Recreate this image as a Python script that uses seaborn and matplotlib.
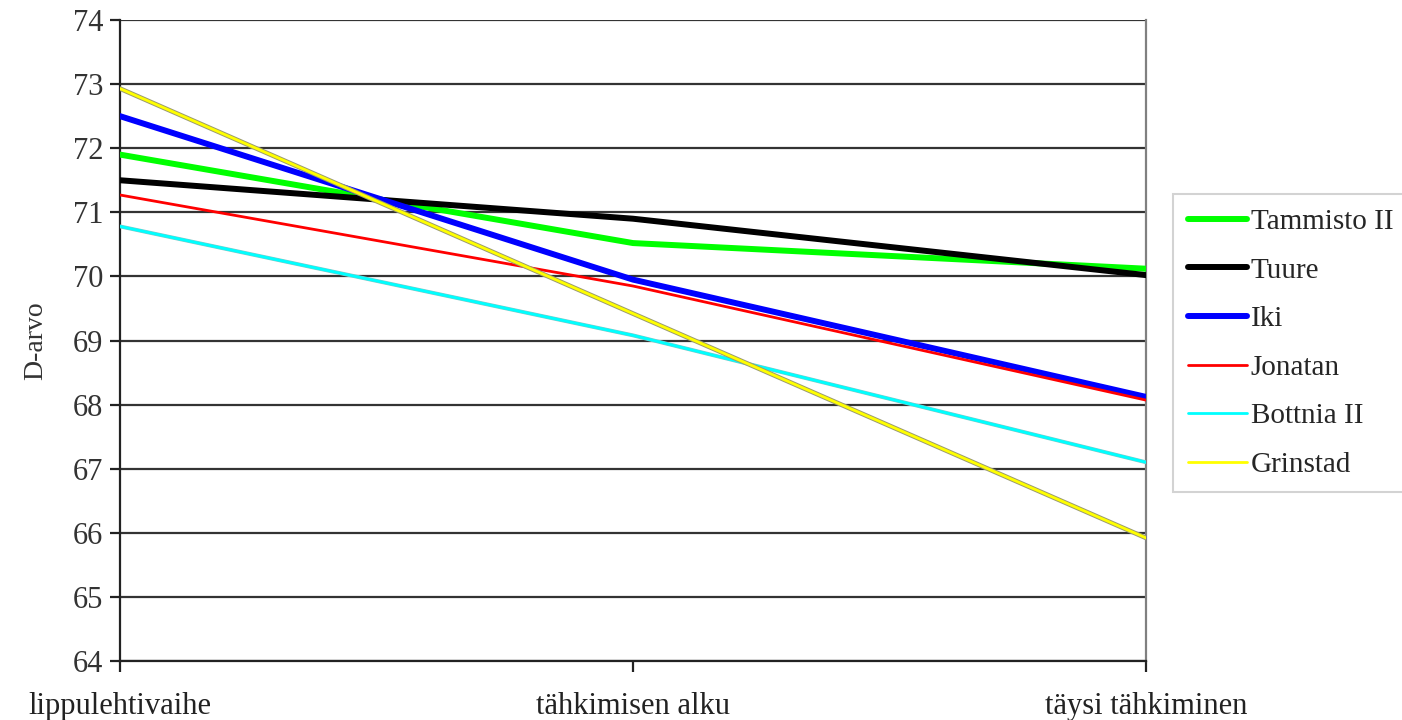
import pandas as pd
import matplotlib.pyplot as plt
import matplotlib.patheffects as pe
import seaborn as sns

# Data
vaiheet = ['lippulehtivaihe', 'tähkimisen alku', 'täysi tähkiminen']
lajikkeet = ['Tammisto II', 'Tuure', 'Iki', 'Jonatan', 'Bottnia II', 'Grinstad']
tammisto = [71.9, 70.52, 70.12]
tuure = [71.5, 70.9, 70.02]
iki = [72.5, 69.95, 68.12]
jonatan = [71.27, 69.85, 68.07]
bottnia = [70.78, 69.08, 67.1]
grinstad = [72.93, 69.42, 65.92]

varit = ['#00ff00', '#000000', '#0000ff', '#ff0000', '#00ffff', '#ffff00']
paksuus = [4.3, 4.3, 4.3, 2.0, 2.0, 2.0]

arvot = [tammisto, tuure, iki, jonatan, bottnia, grinstad]
rivit = []
for nimi, sarja in zip(lajikkeet, arvot):
    for v, y in zip(vaiheet, sarja):
        rivit.append({'Vaihe': v, 'D-arvo': y, 'Lajike': nimi})
df = pd.DataFrame(rivit)

sns.set_style('white')
plt.rcParams['font.family'] = ['Liberation Serif', 'DejaVu Serif']

fig = plt.figure(figsize=(14.02, 7.2), dpi=100)
ax = fig.add_axes([120 / 1402, 59 / 720, 1026 / 1402, 641 / 720])

sns.lineplot(data=df, x='Vaihe', y='D-arvo', hue='Lajike', size='Lajike',
             hue_order=lajikkeet, size_order=lajikkeet,
             palette=dict(zip(lajikkeet, varit)),
             sizes=dict(zip(lajikkeet, paksuus)),
             sort=False, legend=False, ax=ax, zorder=3)

# Grinstad has a faint grey rim in the original
for line, nimi in zip(ax.lines, lajikkeet):
    if nimi == 'Grinstad':
        line.set_path_effects([pe.Stroke(linewidth=3.4, foreground='#9a9a70'), pe.Normal()])
    elif nimi == 'Bottnia II':
        line.set_path_effects([pe.Stroke(linewidth=2.8, foreground='#80c8c8'), pe.Normal()])

ax.set_xlim(0, 2)
ax.set_ylim(64, 74)
ax.set_yticks(range(64, 75))
ax.set_xticks(range(len(vaiheet)))
ax.set_xticklabels(vaiheet)
ax.set_xlabel('')
ax.set_ylabel('D-arvo', fontsize=20, color='#333333', labelpad=18)

ax.yaxis.grid(True, color='#333333', linewidth=1.6)
ax.set_axisbelow(True)
ax.spines['top'].set_visible(False)
ax.spines['left'].set_color('#222222')
ax.spines['bottom'].set_color('#222222')
ax.spines['left'].set_linewidth(1.6)
ax.spines['bottom'].set_linewidth(1.6)
ax.spines['right'].set_color('#808080')
ax.spines['right'].set_linewidth(1.6)

ax.tick_params(axis='y', left=True, direction='out', length=7, width=1.6, color='#222222',
               labelsize=22, labelcolor='#333333', pad=5)
ax.tick_params(axis='x', bottom=True, direction='out', length=8, width=1.6, color='#222222',
               labelsize=22, labelcolor='#222222', pad=14)

kahvat = [plt.Line2D([], [], color=c, linewidth=w) for c, w in zip(varit, paksuus)]
leg = fig.legend(kahvat, lajikkeet, loc='upper left',
                 bbox_to_anchor=(1173 / 1402, 1 - 194 / 720),
                 fontsize=21, frameon=True, fancybox=False, borderaxespad=0,
                 handlelength=2.05, handletextpad=0.12, labelspacing=0.76,
                 borderpad=0.5)
leg.get_frame().set_edgecolor('#c8c8c8')
leg.get_frame().set_linewidth(1.5)

fig.savefig('out.png', dpi=100)
